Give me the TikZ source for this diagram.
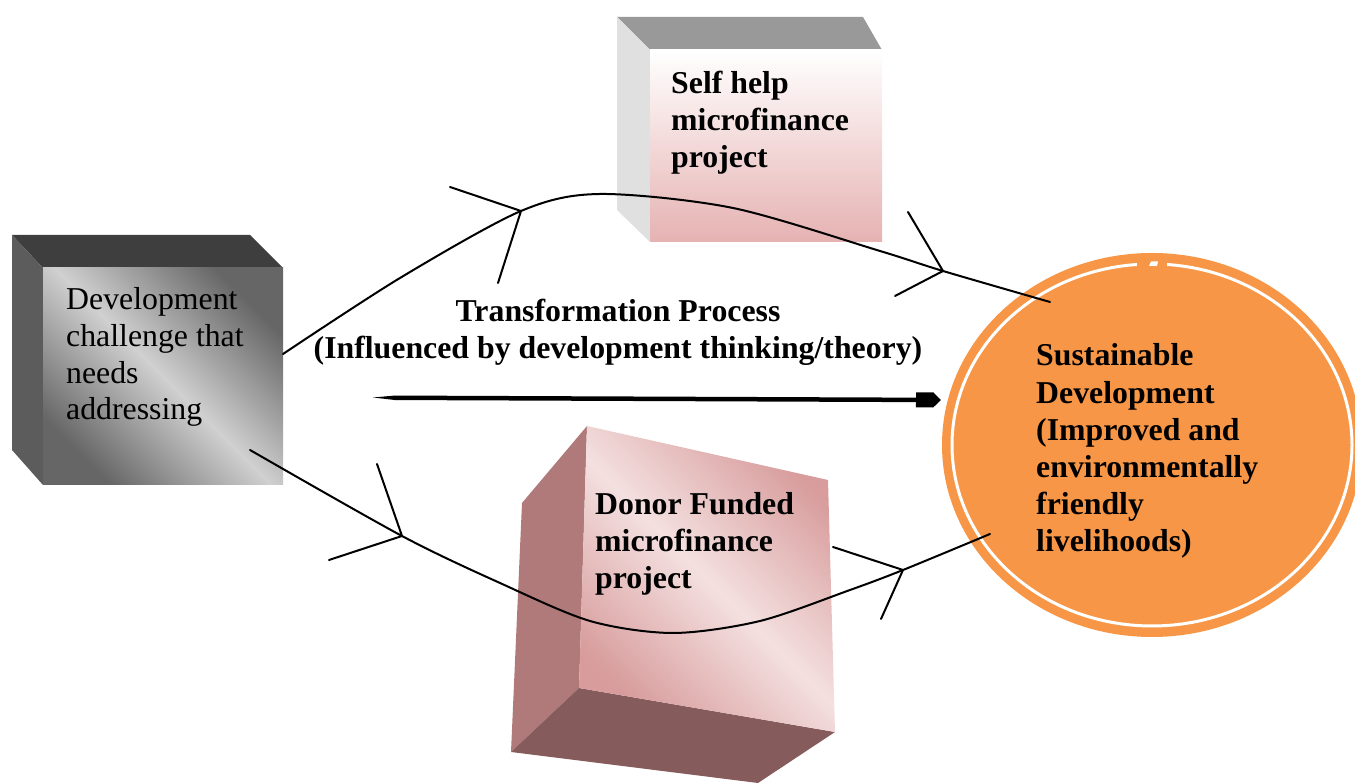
\documentclass[tikz,border=0pt]{standalone}
\usepackage{fontspec}
\setmainfont{Liberation Serif}
\usetikzlibrary{arrows.meta,shapes.geometric}

\definecolor{greyTop}{HTML}{3E3E3E}
\definecolor{greySide}{HTML}{5C5C5C}
\definecolor{greyDark}{HTML}{666666}
\definecolor{greyLight}{HTML}{D0D0D0}
\definecolor{selfTop}{HTML}{999999}
\definecolor{selfSide}{HTML}{E0E0E0}
\definecolor{selfLow}{HTML}{E6B2B2}
\definecolor{donorSide}{HTML}{B07A7A}
\definecolor{donorBottom}{HTML}{855B5B}
\definecolor{donorDark}{HTML}{D89C9C}
\definecolor{donorLight}{HTML}{F4E0E0}
\definecolor{goalOrange}{HTML}{F79646}

\begin{document}
\begin{tikzpicture}[x=1pt,y=1pt,
  link/.style={line width=2pt, line cap=round, line join=round},
  plaintext/.style={anchor=base west, inner sep=0pt, align=left,
    font=\fontsize{31.8}{36.8}\selectfont},
  boldtext/.style={plaintext, font=\fontsize{31.8}{37.2}\selectfont\bfseries},
  thick arrow/.style={line width=4.5pt,
    -{Rectangle[length=17pt,width=15pt]Triangle[length=8pt,width=15pt]}}]

\useasboundingbox (0,0) rectangle (1355,783);

% ---- box: development challenge (grey) ----
% (multi-line nodes are placed by the baseline of their last line)
\fill[greyTop]  (12,548) -- (250,548) -- (283,515) -- (43,515) -- cycle;
\fill[greySide] (12,548) -- (43,515) -- (43,298) -- (12,333) -- cycle;
\node[shade, top color=greyDark, bottom color=greyDark, middle color=greyLight,
  shading angle=-45, inner sep=0pt, minimum width=240pt, minimum height=217pt]
  (challenge) at (163,406.5) {};
\node[plaintext] (challengetext) at (66,363)
  {Development\\challenge that\\needs\\addressing};

% ---- box: self help project ----
\fill[selfTop]  (617,766) -- (863,766) -- (882,733) -- (650,733) -- cycle;
\fill[selfSide] (617,766) -- (650,733) -- (650,541) -- (617,573) -- cycle;
\node[shade, top color=white, bottom color=selfLow, inner sep=0pt,
  minimum width=232pt, minimum height=192pt] (selfhelp) at (766,637) {};
\node[boldtext] (selfhelptext) at (671,615.5)
  {Self help\\microfinance\\project};

% ---- box: donor funded project ----
\fill[donorSide]   (587,357) -- (522,280) -- (511,31) -- (579,95) -- cycle;
\fill[donorBottom] (511,31) -- (579,95) -- (835,51) -- (758,0) -- cycle;
\shade[top color=donorDark, bottom color=donorDark, middle color=donorLight,
  shading angle=-45] (587,357) -- (828,303) -- (835,51) -- (579,95) -- cycle;
\coordinate (donor) at (707,202);
\node[boldtext] (donortext) at (595,194.5)
  {Donor Funded\\microfinance\\project};

% ---- outcome ----
\node[ellipse, fill=goalOrange, inner sep=0pt, minimum width=420pt,
  minimum height=384pt] (goal) at (1152,338) {};
\draw[white, line width=3pt] (goal.center) ellipse [x radius=200pt, y radius=181pt];
\fill[goalOrange] (1137,513) rectangle (1167,525);
\fill[white] (1149,517) -- (1151,521.5) -- (1158,521.5) -- (1157,517) -- cycle;
\node[boldtext] (goaltext) at (1036,231)
  {Sustainable\\Development\\(Improved and\\environmentally\\friendly\\livelihoods)};

% ---- transformation label and arrow ----
\node[boldtext, anchor=base, align=center] (process) at (618,424)
  {Transformation Process\\(Influenced by development thinking/theory)};

\coordinate (arrowstart) at (373,385.5);
\coordinate (arrowthick) at (395,385.2);
\coordinate (arrowend) at (941,383);
\fill (arrowstart) -- ([yshift=2.25pt]arrowthick) -- ([yshift=-2.25pt]arrowthick) -- cycle;
\draw[thick arrow] (arrowthick) -- (arrowend);

% ---- upper path through the self help project ----
\coordinate (u0) at (283,429);
\coordinate (u1) at (400,505);
\coordinate (v1) at (521,572);
\coordinate (u2) at (600,589);
\coordinate (u3) at (733,575);
\coordinate (u4) at (880,532);
\coordinate (v2) at (943,512);
\coordinate (u5) at (1050,481);
\draw[link] plot[smooth, tension=0.5] coordinates
  {(u0) (u1) (v1) (u2) (u3) (u4) (v2) (u5)};
\coordinate (c1a) at (450,596);
\coordinate (c1b) at (498,500);
\draw[link] (c1a) -- (v1) -- (c1b);
\coordinate (c2a) at (908,571);
\coordinate (c2b) at (895,487);
\draw[link] (c2a) -- (v2) -- (c2b);

% ---- lower path through the donor funded project ----
\coordinate (l0) at (250,333);
\coordinate (v3) at (402,247);
\coordinate (l1) at (500,200);
\coordinate (l2) at (590,162);
\coordinate (l3) at (673,150);
\coordinate (l4) at (760,162);
\coordinate (l5) at (850,193);
\coordinate (v4) at (903,213);
\coordinate (l6) at (990,249);
\draw[link] plot[smooth, tension=0.5] coordinates
  {(l0) (v3) (l1) (l2) (l3) (l4) (l5) (v4) (l6)};
\coordinate (c3a) at (377,319);
\coordinate (c3b) at (329,223);
\draw[link] (c3a) -- (v3) -- (c3b);
\coordinate (c4a) at (833,236);
\coordinate (c4b) at (881,164);
\draw[link] (c4a) -- (v4) -- (c4b);

\end{tikzpicture}
\end{document}
